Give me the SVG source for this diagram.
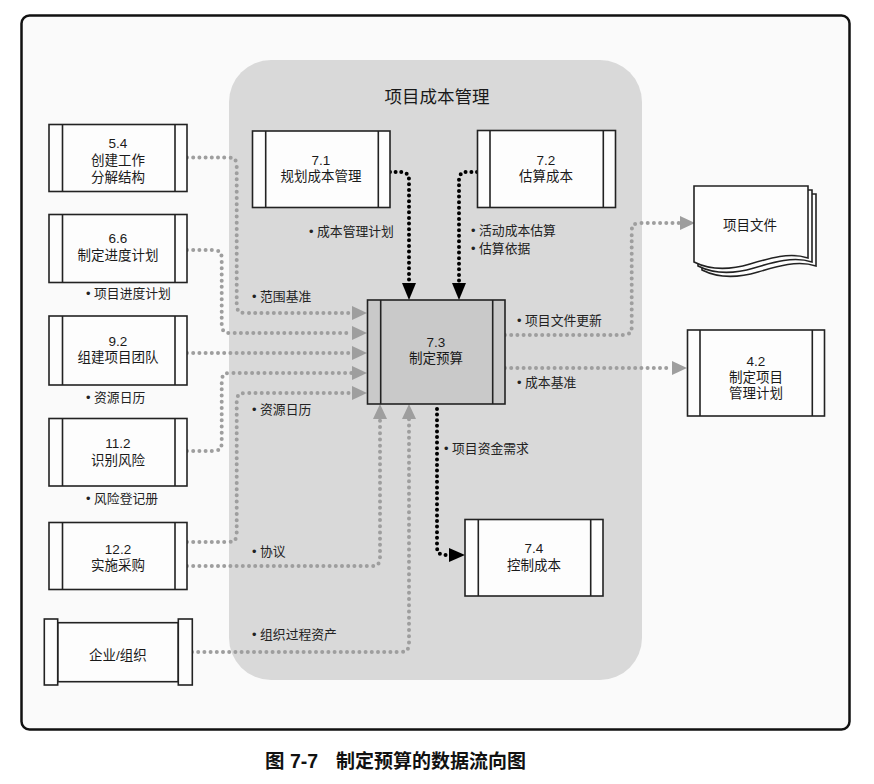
<svg xmlns="http://www.w3.org/2000/svg" width="874" height="784" viewBox="0 0 874 784">
<style>
text{font-family:"Liberation Sans","Noto Sans CJK SC",sans-serif;fill:#1a1a1a;text-anchor:middle}
.n{font-size:13.5px}
.l{font-size:12.8px;text-anchor:start;fill:#222}
.box{fill:#fdfdfd;stroke:#222;stroke-width:1.6}
.bar{fill:none;stroke:#222;stroke-width:1.6}
.g{fill:none;stroke:#9e9e9e;stroke-width:4;stroke-dasharray:0 6.2;stroke-linecap:round}
.b{fill:none;stroke:#000;stroke-width:4;stroke-dasharray:0 5.6;stroke-linecap:round}
.ga{fill:#9e9e9e}
.ba{fill:#000}
</style>
<rect x="0" y="0" width="874" height="784" fill="#ffffff"/>
<rect x="21.5" y="15.5" width="828" height="714" rx="8" fill="#fafafa" stroke="#111" stroke-width="2.5"/>
<rect x="229" y="60" width="413" height="620" rx="42" fill="#d9d9d9"/>
<text x="437" y="103" style="font-size:17.5px">项目成本管理</text>

<g id="connectors">
<path class="g" d="M187,157.5 H228.7 Q236.7,157.5 236.7,165.5 V305 Q236.7,313 244.7,313 H352"/>
<polygon class="ga" points="352,306 367,313 352,320"/>
<path class="g" d="M187,250 H213.7 Q221.7,250 221.7,258 V325 Q221.7,333 229.7,333 H352"/>
<polygon class="ga" points="352,326 367,333 352,340"/>
<path class="g" d="M187,353 H352"/>
<polygon class="ga" points="352,346 367,353 352,360"/>
<path class="g" d="M187,451 H213.7 Q221.7,451 221.7,443 V381 Q221.7,373 229.7,373 H352"/>
<polygon class="ga" points="352,366 367,373 352,380"/>
<path class="g" d="M187,542 H228.7 Q236.7,542 236.7,534 V401 Q236.7,393 244.7,393 H352"/>
<polygon class="ga" points="352,386 367,393 352,400"/>
<path class="g" d="M187,566 H372 Q380,566 380,558 V419"/>
<polygon class="ga" points="373,419 380,404 387,419"/>
<path class="g" d="M192,652 H401 Q409,652 409,644 V419"/>
<polygon class="ga" points="402,419 409,404 416,419"/>
<path class="g" d="M505,335 H623.7 Q631.7,335 631.7,327 V231 Q631.7,223 639.7,223 H680"/>
<polygon class="ga" points="680,216 695,223 680,230"/>
<path class="g" d="M505,368 H672"/>
<polygon class="ga" points="672,361 687,368 672,375"/>
<path class="b" d="M390,172 H401 Q409,172 409,180 V283"/>
<polygon class="ba" points="402,283 416,283 409,300"/>
<path class="b" d="M477,172 H467 Q459,172 459,180 V283"/>
<polygon class="ba" points="452,283 466,283 459,300"/>
<path class="b" d="M437,409 V547 Q437,555 445,555 H449"/>
<polygon class="ba" points="449,548 465,555 449,562"/>
</g>

<g id="n54">
<rect class="box" x="49" y="124.5" width="138" height="67"/>
<path class="bar" d="M62.5,124.5 V191.5 M175,124.5 V191.5"/>
<text class="n" x="118" y="148">5.4</text>
<text class="n" x="118" y="165">创建工作</text>
<text class="n" x="118" y="182">分解结构</text>
</g>
<g id="n66">
<rect class="box" x="49" y="214.5" width="138" height="68"/>
<path class="bar" d="M62.5,214.5 V282.5 M175,214.5 V282.5"/>
<text class="n" x="118" y="243">6.6</text>
<text class="n" x="118" y="260">制定进度计划</text>
<text class="l" x="86" y="298">• 项目进度计划</text>
</g>
<g id="n92">
<rect class="box" x="49" y="316" width="138" height="69"/>
<path class="bar" d="M62.5,316 V385 M175,316 V385"/>
<text class="n" x="118" y="346">9.2</text>
<text class="n" x="118" y="362">组建项目团队</text>
<text class="l" x="86" y="402">• 资源日历</text>
</g>
<g id="n112">
<rect class="box" x="49" y="418.5" width="138" height="67.5"/>
<path class="bar" d="M62.5,418.5 V486 M175,418.5 V486"/>
<text class="n" x="118" y="448">11.2</text>
<text class="n" x="118" y="465">识别风险</text>
<text class="l" x="86" y="503">• 风险登记册</text>
</g>
<g id="n122">
<rect class="box" x="49" y="522.5" width="138" height="67"/>
<path class="bar" d="M62.5,522.5 V589.5 M175,522.5 V589.5"/>
<text class="n" x="118" y="554">12.2</text>
<text class="n" x="118" y="570">实施采购</text>
</g>
<g id="org">
<rect class="box" x="57.7" y="622.7" width="120.6" height="59"/>
<rect class="box" x="44.3" y="619" width="13.4" height="66"/>
<rect class="box" x="178.3" y="619" width="14" height="66"/>
<text class="n" x="118" y="660">企业/组织</text>
</g>
<g id="n71">
<rect class="box" x="252.5" y="131" width="137.5" height="76.5"/>
<path class="bar" d="M265.7,131 V207.5 M378.3,131 V207.5"/>
<text class="n" x="321" y="165">7.1</text>
<text class="n" x="321" y="181">规划成本管理</text>
<text class="l" x="309" y="236">• 成本管理计划</text>
</g>
<g id="n72">
<rect class="box" x="477.5" y="130.5" width="138" height="77"/>
<path class="bar" d="M490,130.5 V207.5 M603.3,130.5 V207.5"/>
<text class="n" x="546" y="165">7.2</text>
<text class="n" x="546" y="181">估算成本</text>
<text class="l" x="471" y="235">• 活动成本估算</text>
<text class="l" x="471" y="253">• 估算依据</text>
</g>
<g id="n73">
<rect x="367.5" y="300" width="137.5" height="104" fill="#c9c9c9" stroke="#222" stroke-width="1.6"/>
<path class="bar" d="M380.7,300 V404 M492.7,300 V404"/>
<text class="n" x="436" y="347">7.3</text>
<text class="n" x="436" y="363">制定预算</text>
</g>
<g id="n74">
<rect class="box" x="465" y="519.5" width="138" height="76.5"/>
<path class="bar" d="M478.3,519.5 V596 M590.7,519.5 V596"/>
<text class="n" x="534" y="553">7.4</text>
<text class="n" x="534" y="570">控制成本</text>
</g>
<g id="docs">
<path class="box" d="M702,194 H816 V266 C798,260 778,266 758,272 C738,278 718,278 702,270 Z"/>
<path class="box" d="M698,190 H812 V262 C794,256 774,262 754,268 C734,274 714,274 698,266 Z"/>
<path class="box" d="M694,186 H808 V258 C790,252 770,258 750,264 C730,270 710,270 694,262 Z"/>
<text class="n" x="750" y="230">项目文件</text>
</g>
<g id="n42">
<rect class="box" x="687.5" y="330" width="137" height="86"/>
<path class="bar" d="M700,330 V416 M812.3,330 V416"/>
<text class="n" x="756" y="366">4.2</text>
<text class="n" x="756" y="382">制定项目</text>
<text class="n" x="756" y="398">管理计划</text>
</g>
<g id="labels">
<text class="l" x="252" y="301">• 范围基准</text>
<text class="l" x="517" y="325">• 项目文件更新</text>
<text class="l" x="517" y="387">• 成本基准</text>
<text class="l" x="252" y="414">• 资源日历</text>
<text class="l" x="444" y="453">• 项目资金需求</text>
<text class="l" x="252" y="556">• 协议</text>
<text class="l" x="252" y="639">• 组织过程资产</text>
</g>
<text x="265" y="768" style="font-size:19.5px;text-anchor:start;font-weight:bold;fill:#111">图 7-7</text>
<text x="336" y="768" style="font-size:19px;text-anchor:start;font-weight:bold;fill:#111">制定预算的数据流向图</text>
</svg>
